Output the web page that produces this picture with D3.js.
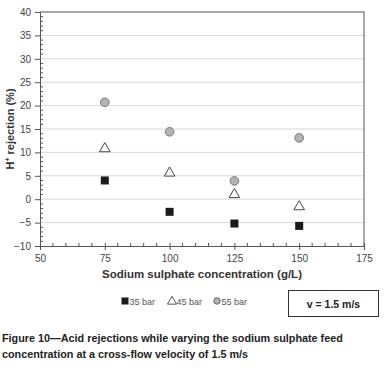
<!DOCTYPE html>
<html>
<head>
<meta charset="utf-8">
<script src="https://cdn.jsdelivr.net/npm/d3@7"></script>
<style>
  body { margin: 0; background: #fff; }
  svg { font-family: "Liberation Sans", Arial, sans-serif; }
</style>
</head>
<body>
<div id="chart"></div>
<script>
// data
const concentrations = [75, 100, 125, 150];
const bar35 = [4.0, -2.7, -5.2, -5.7];
const bar45 = [10.9, 5.7, 1.1, -1.5];
const bar55 = [20.7, 14.4, 3.9, 13.1];
const xTicks = [50, 75, 100, 125, 150, 175];
const yTicks = [-10, -5, 0, 5, 10, 15, 20, 25, 30, 35, 40];
const legendLabels = ["35 bar", "45 bar", "55 bar"];

const W = 391, H = 380;
const margin = { top: 12, right: 27, bottom: 134, left: 40 };

const svg = d3.select("#chart").append("svg")
    .attr("width", W)
    .attr("height", H);

const x = d3.scaleLinear().domain([50, 175]).range([margin.left, W - margin.right]);
const y = d3.scaleLinear().domain([-10, 40]).range([H - margin.bottom, margin.top]);

// gridlines
svg.append("g")
    .selectAll("line")
    .data(yTicks.filter(t => t > -10 && t < 40))
    .join("line")
    .attr("x1", x(50)).attr("x2", x(175))
    .attr("y1", d => y(d)).attr("y2", d => y(d))
    .attr("stroke", "#d9d9d9")
    .attr("stroke-width", 1);

// top and right border
svg.append("path")
    .attr("d", `M${x(50)},${y(40)}H${x(175)}V${y(-10)}`)
    .attr("fill", "none")
    .attr("stroke", "#8c8c8c")
    .attr("stroke-width", 1.5);

// minor ticks
svg.append("g")
    .selectAll("line")
    .data(d3.range(-9, 40, 1).filter(v => v % 5 !== 0))
    .join("line")
    .attr("x1", x(50)).attr("x2", x(50) + 3)
    .attr("y1", d => y(d)).attr("y2", d => y(d))
    .attr("stroke", "#555");

svg.append("g")
    .selectAll("line")
    .data(d3.range(55, 175, 5).filter(v => v % 25 !== 0))
    .join("line")
    .attr("x1", d => x(d)).attr("x2", d => x(d))
    .attr("y1", y(-10)).attr("y2", y(-10) - 3)
    .attr("stroke", "#555");

// y axis
const yAxis = svg.append("g")
    .attr("transform", `translate(${x(50)},0)`)
    .call(d3.axisLeft(y).tickValues(yTicks).tickSize(5).tickPadding(4));
yAxis.select(".domain").attr("stroke", "#555");
yAxis.selectAll(".tick line").attr("stroke", "#555");
yAxis.selectAll(".tick text")
    .attr("fill", "#444")
    .style("font-size", "10px");

// x axis
const xAxis = svg.append("g")
    .attr("transform", `translate(0,${y(-10)})`)
    .call(d3.axisBottom(x).tickValues(xTicks).tickSizeInner(4).tickSizeOuter(0).tickPadding(5));
xAxis.select(".domain").attr("stroke", "#555");
xAxis.selectAll(".tick line").attr("stroke", "#555").attr("y1", -3);
xAxis.selectAll(".tick text")
    .attr("fill", "#444")
    .style("font-size", "10px");

// axis titles
svg.append("text")
    .attr("x", (x(50) + x(175)) / 2)
    .attr("y", 278)
    .attr("text-anchor", "middle")
    .attr("fill", "#333")
    .style("font-size", "11.5px")
    .style("font-weight", "bold")
    .text("Sodium  sulphate concentration (g/L)");

svg.append("text")
    .attr("transform", `translate(14,${(y(-10) + y(40)) / 2}) rotate(-90)`)
    .attr("text-anchor", "middle")
    .attr("fill", "#333")
    .style("font-size", "11px")
    .style("font-weight", "bold")
    .html('H<tspan dy="-4" style="font-size:7px">+</tspan><tspan dy="4"> rejection (%)</tspan>');

// markers
const pts = (vals) => concentrations.map((c, i) => ({ c, v: vals[i] }));

svg.append("g")
    .selectAll("rect")
    .data(pts(bar35))
    .join("rect")
    .attr("x", d => x(d.c) - 4)
    .attr("y", d => y(d.v) - 4)
    .attr("width", 8).attr("height", 8)
    .attr("fill", "#1a1a1a");

const tri = d3.symbol().type(d3.symbolTriangle).size(48);
svg.append("g")
    .selectAll("path")
    .data(pts(bar45))
    .join("path")
    .attr("transform", d => `translate(${x(d.c)},${y(d.v) + 0.5})`)
    .attr("d", tri)
    .attr("fill", "#fff")
    .attr("stroke", "#444")
    .attr("stroke-width", 1);

svg.append("g")
    .selectAll("circle")
    .data(pts(bar55))
    .join("circle")
    .attr("cx", d => x(d.c))
    .attr("cy", d => y(d.v))
    .attr("r", 4.3)
    .attr("fill", "#b3b3b3")
    .attr("stroke", "#777")
    .attr("stroke-width", 1);

// legend
const lg = svg.append("g").attr("transform", "translate(0,301)");
const legendX = [125, 172, 217];
lg.append("rect").attr("x", legendX[0] - 3.5).attr("y", -3.5).attr("width", 7).attr("height", 7).attr("fill", "#1a1a1a");
lg.append("path").attr("transform", `translate(${legendX[1]},0.5)`)
    .attr("d", d3.symbol().type(d3.symbolTriangle).size(36))
    .attr("fill", "#fff").attr("stroke", "#555");
lg.append("circle").attr("cx", legendX[2]).attr("cy", 0).attr("r", 3.2)
    .attr("fill", "#b3b3b3").attr("stroke", "#666");
lg.selectAll("text")
    .data(legendLabels)
    .join("text")
    .attr("x", (d, i) => legendX[i] + 4.5)
    .attr("y", 3.5)
    .attr("fill", "#555")
    .style("font-size", "9px")
    .text(d => d);

// velocity box
svg.append("rect")
    .attr("x", 288.5).attr("y", 290.5)
    .attr("width", 90).attr("height", 26)
    .attr("fill", "#fff")
    .attr("stroke", "#333")
    .attr("stroke-width", 1);
svg.append("text")
    .attr("x", 333.5).attr("y", 307.5)
    .attr("text-anchor", "middle")
    .attr("fill", "#222")
    .style("font-size", "10.5px")
    .style("font-weight", "bold")
    .text("v = 1.5 m/s");

// caption
const caption = ["Figure 10\u2014Acid rejections while varying the sodium sulphate feed",
                 "concentration at a cross-flow velocity of 1.5 m/s"];
svg.append("g")
    .selectAll("text")
    .data(caption)
    .join("text")
    .attr("x", 2)
    .attr("y", (d, i) => 342 + i * 16)
    .attr("fill", "#222")
    .style("font-size", "10.8px")
    .style("font-weight", "bold")
    .text(d => d);
</script>
</body>
</html>
